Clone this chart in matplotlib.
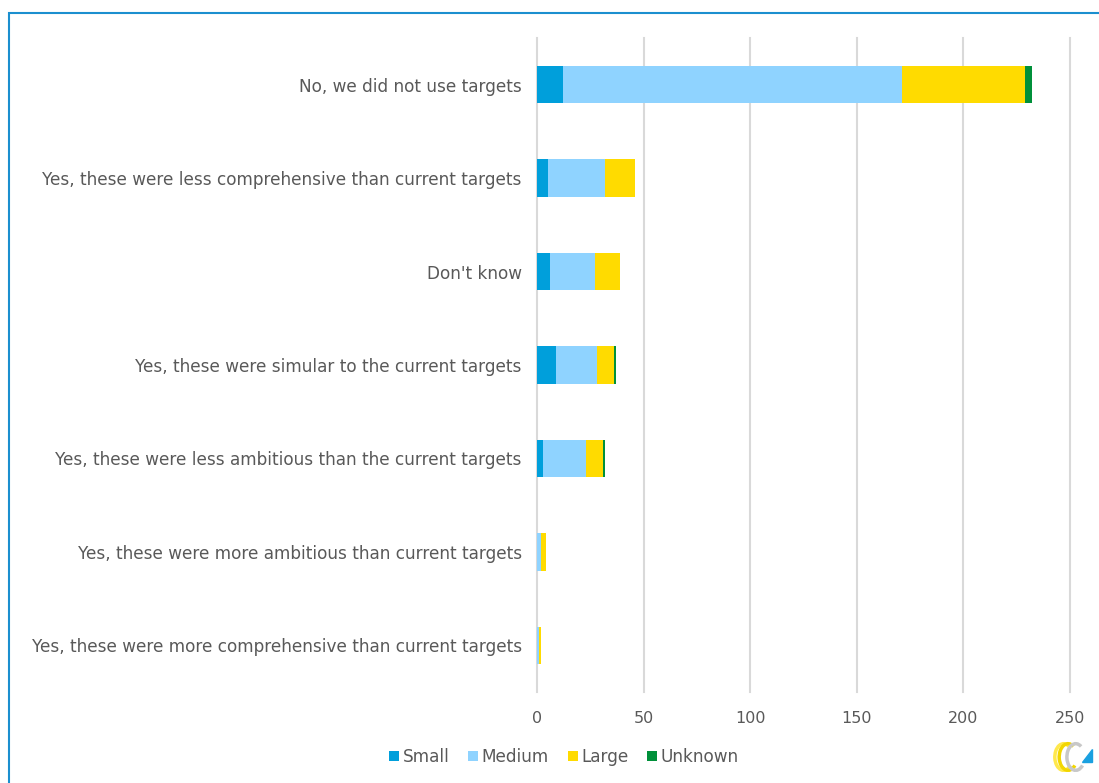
import matplotlib
matplotlib.use('Agg')
from matplotlib import pyplot as plt
from matplotlib.patches import Rectangle, Polygon, Arc
import numpy as np

categories = [
    'No, we did not use targets',
    'Yes, these were less comprehensive than current targets',
    "Don't know",
    'Yes, these were simular to the current targets',
    'Yes, these were less ambitious than the current targets',
    'Yes, these were more ambitious than current targets',
    'Yes, these were more comprehensive than current targets',
]
small = [12, 5, 6, 9, 3, 0, 0]
medium = [159, 27, 21, 19, 20, 2, 1]
large = [58, 14, 12, 8, 8, 2, 1]
unknown = [3, 0, 0, 1, 1, 0, 0]
series_names = ['Small', 'Medium', 'Large', 'Unknown']
colors = ['#009fdb', '#8fd3ff', '#ffdb00', '#00903a']
xticks = [0, 50, 100, 150, 200, 250]

txt = '#595959'
plt.rcParams['font.family'] = ['DejaVu Sans']

fig = plt.figure(figsize=(10.99, 7.83), dpi=100)
ax = fig.add_axes([537/1099, 1-692/783, 533/1099, 654/783])

y = np.arange(len(categories))
left = np.zeros(len(categories))
for vals, name, col in zip([small, medium, large, unknown], series_names, colors):
    ax.barh(y, vals, left=left, height=0.4, color=col, label=name, zorder=3)
    left += np.array(vals)

ax.set_ylim(len(categories) - 0.5, -0.5)
ax.set_xlim(0, 250)
ax.set_xticks(xticks)
ax.set_yticks(y)
ax.set_yticklabels(categories, fontsize=12.2, color=txt)
ax.tick_params(axis='x', labelsize=11.5, labelcolor=txt, length=0, pad=14)
ax.tick_params(axis='y', length=0, pad=11)
ax.grid(axis='x', color='#d9d9d9', linewidth=1.5, zorder=0)
for gl in ax.get_xgridlines():
    gl.set_clip_on(False)
for s in ax.spines.values():
    s.set_visible(False)

leg = fig.legend(loc='center', bbox_to_anchor=(564/1099, 1-757/783), ncol=4,
                 frameon=False, fontsize=12.2, handlelength=0.6, handleheight=0.6,
                 handletextpad=0.2, columnspacing=1.1)
for t in leg.get_texts():
    t.set_color(txt)

# outer frame
fig.patches.append(Rectangle((9/1099, -0.1), 1.2, 1-13/783 + 0.1,
                             transform=fig.transFigure, fill=False,
                             edgecolor='#1b8fcf', linewidth=1.5))

# small logo bottom right
lx, ly = 1068/1099, 1-757/783
for dx, c in [(-0.004, '#ffe84d'), (0.0, '#f2d600'), (0.007, '#c8c8c8')]:
    fig.patches.append(Arc((lx + dx, ly), 0.016, 0.034, theta1=70, theta2=300,
                           transform=fig.transFigure, color=c, linewidth=2.5))
fig.patches.append(Polygon([(lx + 0.013, ly - 0.006), (lx + 0.022, ly - 0.006),
                            (lx + 0.022, ly + 0.010)], closed=True,
                           transform=fig.transFigure, color='#1aa0e0'))

fig.savefig('out.png', dpi=100)
